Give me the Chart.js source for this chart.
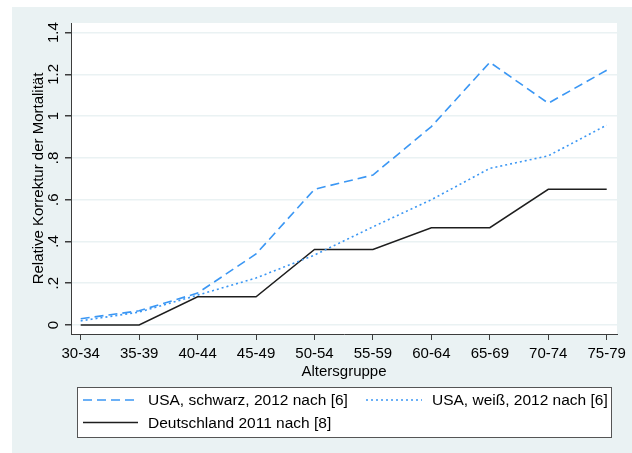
<!DOCTYPE html>
<html>
<head>
<meta charset="utf-8">
<script src="https://cdn.jsdelivr.net/npm/chart.js@4.4.1/dist/chart.umd.min.js"></script>
<style>
  body { margin: 0; background: #fff; }
  #wrap { width: 632px; height: 453px; }
</style>
</head>
<body>
<div id="wrap"><canvas id="myChart"></canvas></div>
<script>
var ageGroups = ['30-34', '35-39', '40-44', '45-49', '50-54', '55-59', '60-64', '65-69', '70-74', '75-79'];
var usaBlack = [0.03, 0.068, 0.153, 0.34, 0.65, 0.718, 0.95, 1.258, 1.062, 1.22];
var usaWhite = [0.02, 0.062, 0.143, 0.225, 0.335, 0.47, 0.6, 0.75, 0.81, 0.957];
var germany = [0, 0, 0.135, 0.135, 0.362, 0.362, 0.466, 0.466, 0.65, 0.65];
var yTicks = [0, 0.2, 0.4, 0.6, 0.8, 1, 1.2, 1.4];
var yTickLabels = ['0', '.2', '.4', '.6', '.8', '1', '1.2', '1.4'];
var seriesLabels = ['USA, schwarz, 2012 nach [6]', 'USA, weiß, 2012 nach [6]', 'Deutschland 2011 nach [8]'];

var blue = '#3b97f4';
var bgGray = '#eaf2f3';
var axisGray = '#3c3c3c';
var font = "'Liberation Sans', Arial, sans-serif";

function points(values) {
  return values.map(function(v, i) { return { x: i, y: v }; });
}

// background + plot area
const backgroundPlugin = {
  id: 'background',
  beforeDraw: function(chart) {
    const ctx = chart.ctx;
    const a = chart.chartArea;
    ctx.save();
    ctx.fillStyle = '#fff';
    ctx.fillRect(0, 0, chart.width, chart.height);
    ctx.fillStyle = bgGray;
    ctx.fillRect(12, 7, chart.width - 12, chart.height - 7);
    ctx.fillStyle = '#fff';
    ctx.fillRect(a.left, a.top, a.right - a.left, a.bottom - a.top);
    ctx.restore();
  }
};

// Stata-like legend box below the chart
const legendBoxPlugin = {
  id: 'legendBox',
  afterDraw: function(chart) {
    const ctx = chart.ctx;
    const ds = chart.data.datasets;
    ctx.save();
    ctx.fillStyle = '#fff';
    ctx.fillRect(77, 387, 534, 50);
    ctx.strokeStyle = '#555';
    ctx.lineWidth = 1;
    ctx.strokeRect(77.5, 387.5, 534, 50);

    const slots = [
      { x1: 83, x2: 138, tx: 148, y: 400 },
      { x1: 366, x2: 422, tx: 432, y: 400 },
      { x1: 83, x2: 138, tx: 148, y: 422.5 }
    ];
    ds.forEach(function(d, i) {
      const s = slots[i];
      ctx.beginPath();
      ctx.setLineDash(d.borderDash || []);
      ctx.strokeStyle = d.borderColor;
      ctx.lineWidth = d.borderWidth;
      ctx.moveTo(s.x1, s.y);
      ctx.lineTo(s.x2, s.y);
      ctx.stroke();
      ctx.setLineDash([]);
      ctx.fillStyle = '#000';
      ctx.font = '15.5px ' + font;
      ctx.textBaseline = 'middle';
      ctx.fillText(d.label, s.tx, s.y + 1);
    });
    ctx.restore();
  }
};

const ctx = document.getElementById('myChart').getContext('2d');
new Chart(ctx, {
  type: 'line',
  data: {
    datasets: [{
      label: seriesLabels[0],
      data: points(usaBlack),
      borderColor: blue,
      borderWidth: 1.6,
      borderDash: [9, 5],
      pointRadius: 0,
      fill: false
    }, {
      label: seriesLabels[1],
      data: points(usaWhite),
      borderColor: blue,
      borderWidth: 1.6,
      borderDash: [2, 3],
      pointRadius: 0,
      fill: false
    }, {
      label: seriesLabels[2],
      data: points(germany),
      borderColor: '#1e1e1e',
      borderWidth: 1.5,
      pointRadius: 0,
      fill: false
    }]
  },
  options: {
    responsive: true,
    maintainAspectRatio: false,
    animation: false,
    devicePixelRatio: 1,
    layout: {
      padding: { left: 0, top: 23, right: 15, bottom: 69 }
    },
    plugins: {
      legend: { display: false },
      tooltip: { enabled: false }
    },
    scales: {
      x: {
        type: 'linear',
        min: -0.166,
        max: 9.176,
        afterBuildTicks: function(scale) {
          scale.ticks = ageGroups.map(function(g, i) { return { value: i }; });
        },
        afterFit: function(scale) {
          scale.height = 50;
        },
        ticks: {
          autoSkip: false,
          maxRotation: 0,
          padding: 5,
          color: '#000',
          font: { family: font, size: 15 },
          callback: function(value) { return ageGroups[value]; }
        },
        grid: {
          drawOnChartArea: false,
          tickLength: 6,
          tickColor: axisGray
        },
        border: { color: axisGray, width: 1 },
        title: {
          display: true,
          text: 'Altersgruppe',
          color: '#000',
          font: { family: font, size: 15 },
          padding: { top: 0, bottom: 3 }
        }
      },
      y: {
        min: -0.043,
        max: 1.446,
        afterBuildTicks: function(scale) {
          scale.ticks = yTicks.map(function(v) { return { value: v }; });
        },
        afterFit: function(scale) {
          scale.width = 71;
        },
        ticks: {
          minRotation: 90,
          maxRotation: 90,
          crossAlign: 'center',
          padding: 1,
          color: '#000',
          font: { family: font, size: 15 },
          callback: function(value, index) { return yTickLabels[index]; }
        },
        grid: {
          color: bgGray,
          lineWidth: 1.5,
          tickLength: 6,
          tickColor: axisGray
        },
        border: { color: axisGray, width: 1 },
        title: {
          display: true,
          text: 'Relative Korrektur der Mortalität',
          color: '#000',
          font: { family: font, size: 15 },
          padding: { top: 30, bottom: 0 }
        }
      }
    }
  },
  plugins: [backgroundPlugin, legendBoxPlugin]
});
</script>
</body>
</html>
